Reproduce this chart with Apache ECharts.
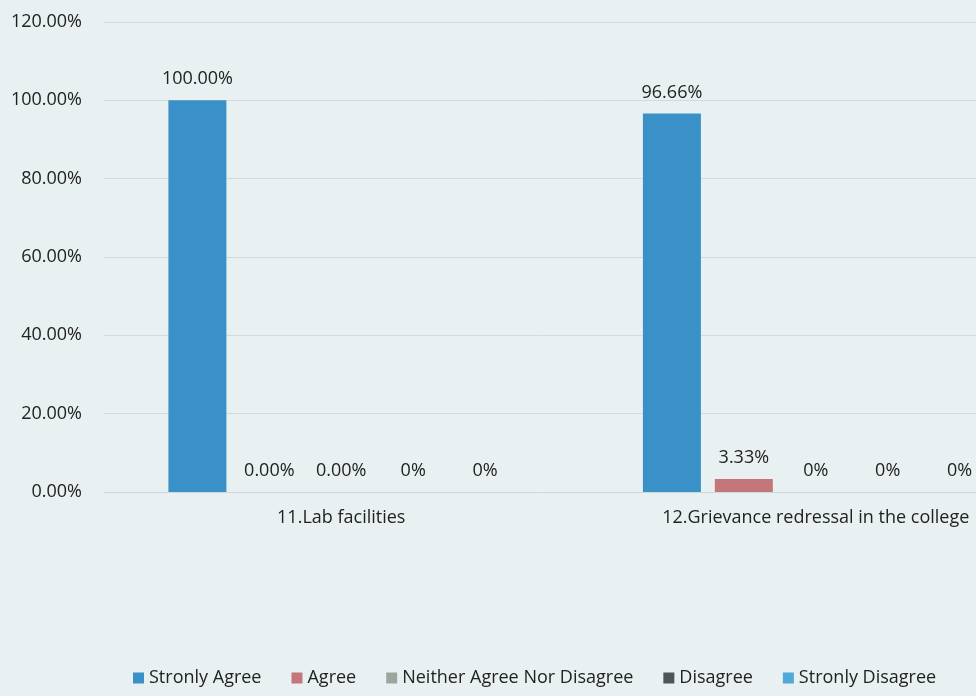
<!DOCTYPE html>
<html>
<head>
<meta charset="utf-8">
<script src="https://cdn.jsdelivr.net/npm/echarts@6/dist/echarts.min.js"></script>
<style>
html,body{margin:0;padding:0;background:#e9f0f1;}
#c{width:976px;height:696px;}
</style>
</head>
<body>
<div id="c"></div>
<script>
const categories = ['11.Lab facilities', '12.Grievance redressal in the college'];
const seriesNames = ['Stronly Agree', 'Agree', 'Neither Agree Nor Disagree', 'Disagree', 'Stronly Disagree'];
const stronglyAgree = [100.00, 96.66];
const agree = [0.00, 3.33];
const neither = [0, 0];
const disagree = [0, 0];
const stronglyDisagree = [0, 0];
// number of decimals shown in each data label, as printed in the original
const labelDecimals = [[2, 2], [2, 2], [2, 0], [0, 0], [0, 0]];
const yTicks = [0, 20, 40, 60, 80, 100, 120];

const values = [stronglyAgree, agree, neither, disagree, stronglyDisagree];
const colors = ['#3a91c7', '#c4777a', '#9ea59f', '#4f5459', '#4fa9d9'];
const font = 'Open Sans';

const chart = echarts.init(document.getElementById('c'));
chart.setOption({
  backgroundColor: '#e9f0f1',
  animation: false,
  textStyle: {fontFamily: font},
  grid: {left: 104, right: -77, top: 22, bottom: 204, outerBoundsMode: 'none', containLabel: false},
  legend: {
    bottom: 4,
    left: 128,
    itemWidth: 11,
    itemHeight: 11,
    itemGap: 30,
    icon: 'rect',
    textStyle: {fontSize: 18, color: '#222', fontFamily: font},
    data: seriesNames
  },
  xAxis: {
    type: 'category',
    data: categories,
    axisLine: {show: true, lineStyle: {color: '#cfd6d8'}},
    axisTick: {show: false},
    axisLabel: {fontSize: 18, color: '#222', margin: 17, fontFamily: font}
  },
  yAxis: {
    type: 'value',
    min: 0,
    max: 120,
    interval: 20,
    axisLine: {show: false},
    axisTick: {show: false},
    splitLine: {lineStyle: {color: '#d3dadc'}},
    axisLabel: {
      fontSize: 18, color: '#222', margin: 22, fontFamily: font,
      formatter: v => yTicks.includes(v) ? v.toFixed(2) + '%' : ''
    }
  },
  series: seriesNames.map((name, i) => ({
    name: name,
    type: 'bar',
    data: values[i],
    barWidth: 58,
    barGap: '24%',
    itemStyle: {color: colors[i]},
    label: {
      show: true,
      position: 'top',
      distance: 12,
      fontSize: 18,
      color: '#222',
      fontFamily: font,
      formatter: p => p.value.toFixed(labelDecimals[i][p.dataIndex]) + '%'
    }
  }))
});
</script>
</body>
</html>
